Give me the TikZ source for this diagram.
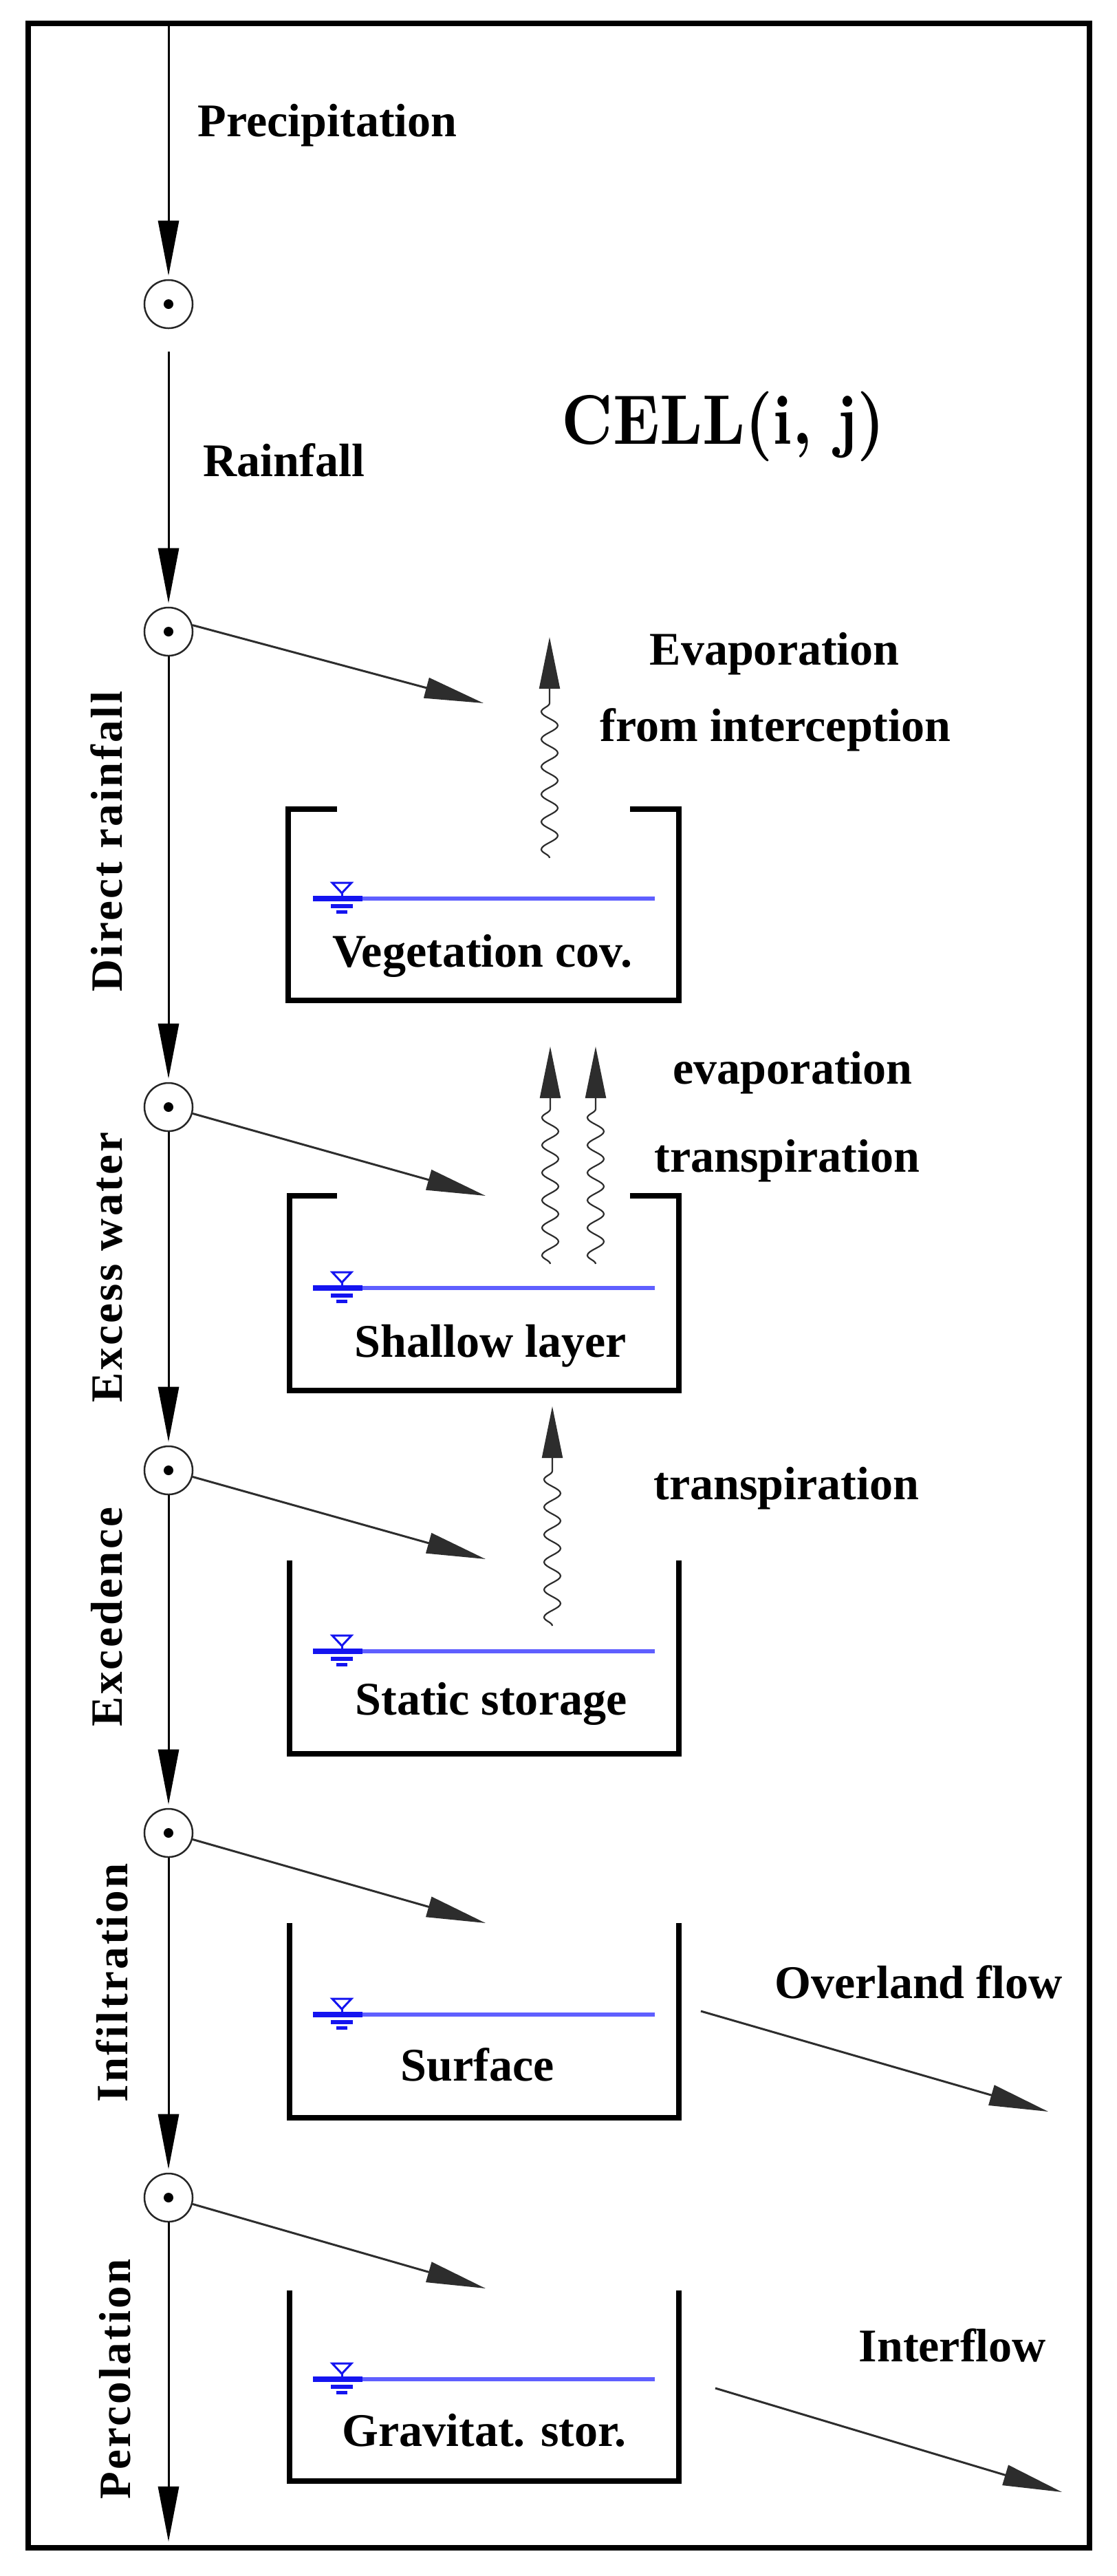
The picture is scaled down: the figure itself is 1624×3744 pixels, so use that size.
\documentclass[tikz,border=0pt]{standalone}
\usepackage{fontspec}
\usepackage{graphicx}
\newfontfamily\tnr{Liberation Serif}
\newfontfamily\cellfont{lmroman10-bold.otf}
\usetikzlibrary{arrows.meta,decorations.pathmorphing}
\definecolor{wblue}{RGB}{95,95,255}
\definecolor{wdark}{RGB}{20,20,240}
\definecolor{dgray}{RGB}{45,45,45}
\begin{document}
\begin{tikzpicture}[x=0.01cm,y=-0.01cm,
  lbl/.style={font=\tnr\bfseries\fontsize{19.35}{23}\selectfont, inner sep=0, anchor=base west},
  boxlbl/.style={font=\tnr\bfseries\fontsize{19.35}{23}\selectfont, inner sep=0, anchor=base},
  vlbl/.style={font=\tnr\bfseries\fontsize{18.5}{22}\selectfont\addfontfeature{LetterSpace=5}, inner sep=0, anchor=base, rotate=90},
  celllbl/.style={font=\cellfont\fontsize{29}{34}\selectfont, inner sep=0, anchor=base west},
  junc/.style={circle, draw=black!85, line width=0.025cm, minimum size=0.7cm, inner sep=0},
  flow/.style={line width=0.03cm, -{Triangle[length=0.8cm,width=0.3cm]}, shorten >=0.05cm},
  branch/.style={draw=dgray, line width=0.03cm, -{Triangle[length=0.86cm,width=0.3cm]}},
  wavy/.style={draw=dgray, line width=0.022cm, decorate,
    decoration={snake, amplitude=0.12cm, segment length=0.4cm, post length=0.8cm},
    -{Triangle[length=0.75cm,width=0.3cm]}},
  tank/.style={line width=0.085cm, line join=miter},
  water/.pic={
    \draw[wblue, line width=0.055cm] (0,0) -- (497,0);
    \draw[wdark, line width=0.08cm] (0,0) -- (72,0);
    \draw[wdark, line width=0.03cm] (28,-23) -- (56,-23) -- (42,-8) -- cycle;
    \draw[wdark, line width=0.03cm] (42,-8) -- (42,0);
    \draw[wdark, line width=0.06cm] (26,11) -- (58,11);
    \draw[wdark, line width=0.05cm] (34,19) -- (50,19);
  }
]
\useasboundingbox (0,0) rectangle (1624,3744);
% frame
\draw[line width=0.08cm] (41,34) rectangle (1584,3703);

% tanks
\draw[tank] (490,1176) -- (419,1176) -- (419,1454) -- (987,1454) -- (987,1176) -- (916,1176);
\draw[tank] (490,1738) -- (421,1738) -- (421,2021) -- (987,2021) -- (987,1738) -- (916,1738);
\draw[tank] (421,2268) -- (421,2549) -- (987,2549) -- (987,2268);
\draw[tank] (421,2795) -- (421,3078) -- (987,3078) -- (987,2795);
\draw[tank] (421,3329) -- (421,3606) -- (987,3606) -- (987,3329);

% water levels
\pic at (455,1306) {water};
\pic at (455,1872) {water};
\pic at (455,2400) {water};
\pic at (455,2928) {water};
\pic at (455,3458) {water};

% junctions
\node[junc] (n1) at (245,442) {};
\node[junc] (n2) at (245,918) {};
\node[junc] (n3) at (245,1609) {};
\node[junc] (n4) at (245,2137) {};
\node[junc] (n5) at (245,2664) {};
\node[junc] (n6) at (245,3194) {};
\foreach \n in {n1,n2,n3,n4,n5,n6} \fill (\n) circle (0.07cm);

\coordinate (top) at (245,38);
\coordinate (bot) at (245,3699);

% main flow
\draw[flow] (top) -- (n1);
\draw[flow, shorten <=0.33cm] (n1) -- (n2);
\draw[flow] (n2) -- (n3);
\draw[flow] (n3) -- (n4);
\draw[flow] (n4) -- (n5);
\draw[flow] (n5) -- (n6);
\draw[flow] (n6) -- (bot);

% branch arrows
\coordinate (b2) at (703,1022);
\coordinate (b3) at (706,1738);
\coordinate (b4) at (706,2266);
\coordinate (b5) at (706,2795);
\coordinate (b6) at (706,3326);
\draw[branch] (n2.15) -- (b2);
\draw[branch] (n3.-15) -- (b3);
\draw[branch] (n4.-15) -- (b4);
\draw[branch] (n5.-15) -- (b5);
\draw[branch] (n6.-15) -- (b6);

% outflows
\coordinate (o1s) at (1019,2923);
\coordinate (o1e) at (1524,3069);
\coordinate (o2s) at (1040,3471);
\coordinate (o2e) at (1544,3622);
\draw[branch] (o1s) -- (o1e);
\draw[branch] (o2s) -- (o2e);

% wavy arrows
\coordinate (w1s) at (799,1247);  \coordinate (w1e) at (799,926);
\coordinate (w2s) at (800,1837);  \coordinate (w2e) at (800,1521);
\coordinate (w3s) at (866,1837);  \coordinate (w3e) at (866,1521);
\coordinate (w4s) at (803,2363);  \coordinate (w4e) at (803,2044);
\draw[wavy] (w1s) -- (w1e);
\draw[wavy] (w2s) -- (w2e);
\draw[wavy] (w3s) -- (w3e);
\draw[wavy] (w4s) -- (w4e);

% labels
\node[lbl] (tprec) at (287,198) {Precipitation};
\node[lbl] (train) at (295,692) {Rainfall};
\node[celllbl] (tcell) at (816,645) {\scalebox{0.88}[1]{CELL(i, j)}};
\node[lbl] (tevap) at (944,966) {Evaporation};
\node[lbl] (tfrom) at (872,1077) {from interception};
\node[lbl] (tev2) at (978,1575) {evaporation};
\node[lbl] (ttr1) at (951,1703) {transpiration};
\node[lbl] (ttr2) at (950,2179) {transpiration};
\node[lbl] (tover) at (1126,2904) {Overland flow};
\node[lbl] (tinter) at (1248,3432) {Interflow};

\node[boxlbl] (lveg) at (701,1405) {Vegetation cov.};
\node[boxlbl] (lsha) at (713,1972) {Shallow layer};
\node[boxlbl] (lsta) at (714,2492) {Static storage};
\node[boxlbl] (lsur) at (694,3024) {Surface};
\node[boxlbl] (lgra) at (704,3555) {Gravitat. stor.};

\node[vlbl] (vdir) at (177,1223) {Direct rainfall};
\node[vlbl] (vexc) at (177,1842) {Excess water};
\node[vlbl] (vexd) at (177,2350) {Excedence};
\node[vlbl] (vinf) at (185,2882) {Infiltration};
\node[vlbl] (vper) at (189,3458) {Percolation};
\end{tikzpicture}
\end{document}
